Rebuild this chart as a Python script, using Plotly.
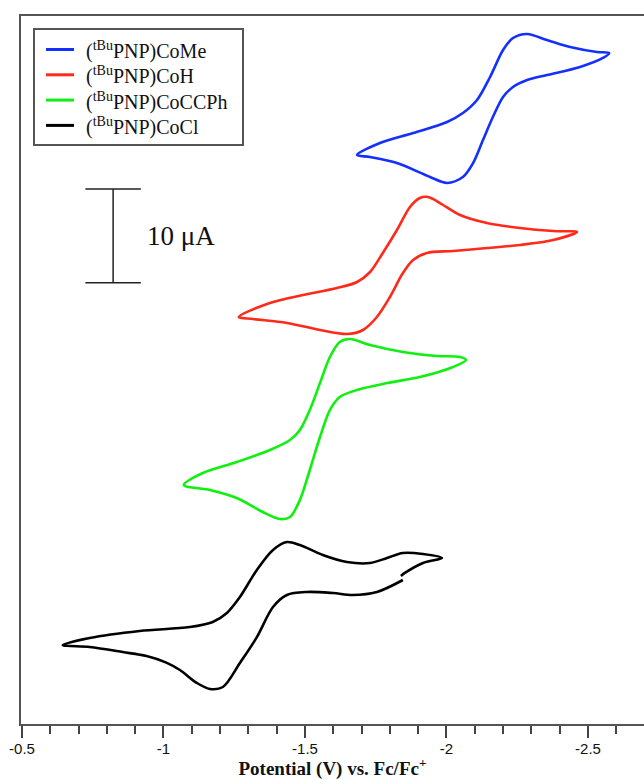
import plotly.graph_objects as go

# ---------------- data (potential in V vs Fc/Fc+, current in uA with vertical offsets) -------------
come_E = [-1.684, -1.765, -1.882, -2.002, -2.058, -2.108, -2.154, -2.200, -2.235, -2.285, -2.355,
          -2.437, -2.532, -2.575, -2.553, -2.472, -2.355, -2.285, -2.235, -2.200, -2.164, -2.129,
          -2.094, -2.058, -2.002, -1.942, -1.825, -1.730, -1.684]
come_I = [60.73, 62.01, 63.07, 64.25, 65.21, 66.60, 69.05, 71.93, 73.21, 73.64, 73.00,
          72.25, 71.72, 71.61, 71.08, 70.12, 69.26, 68.73, 67.98, 66.92, 64.78, 62.33,
          59.87, 58.38, 57.74, 58.38, 59.87, 60.51, 60.73]

coh_E = [-1.266, -1.376, -1.493, -1.613, -1.684, -1.730, -1.775, -1.825, -1.871, -1.906, -1.935,
         -1.977, -2.048, -2.143, -2.260, -2.377, -2.461, -2.377, -2.260, -2.143, -2.023, -1.931,
         -1.882, -1.846, -1.800, -1.754, -1.705, -1.648, -1.553, -1.436, -1.316, -1.266]
coh_I = [43.44, 44.93, 45.78, 46.53, 47.17, 48.24, 50.27, 52.72, 55.18, 56.14, 56.24,
         55.60, 54.32, 53.47, 52.93, 52.61, 52.51, 51.65, 51.12, 50.80, 50.48, 50.27,
         49.52, 48.13, 45.57, 43.44, 42.05, 41.62, 42.05, 42.80, 43.22, 43.44]

coccph_E = [-1.072, -1.139, -1.259, -1.376, -1.447, -1.482, -1.517, -1.553, -1.588, -1.623, -1.659,
            -1.730, -1.846, -1.966, -2.048, -2.069, -2.023, -1.906, -1.790, -1.684, -1.623, -1.588,
            -1.553, -1.517, -1.482, -1.447, -1.411, -1.351, -1.259, -1.164, -1.072]
coccph_I = [25.51, 26.79, 27.96, 29.24, 30.31, 31.38, 33.51, 36.39, 39.17, 40.77, 41.09,
            40.45, 39.70, 39.27, 39.17, 38.85, 38.10, 37.03, 36.39, 35.65, 34.90, 33.51,
            30.63, 27.11, 23.91, 22.09, 21.88, 22.63, 24.12, 24.97, 25.51]

cocl_E = [-1.846, -1.754, -1.669, -1.599, -1.507, -1.436, -1.387, -1.330, -1.270, -1.210, -1.164,
          -1.118, -1.058, -1.010, -0.940, -0.856, -0.739, -0.644, -0.739, -0.916, -1.093, -1.174,
          -1.224, -1.270, -1.330, -1.387, -1.436, -1.482, -1.563, -1.648, -1.730, -1.790, -1.846,
          -1.917, -1.984, -1.917, -1.853, -1.839]
cocl_I = [15.37, 14.09, 13.77, 13.98, 14.09, 13.77, 12.49, 9.28, 6.51, 3.95, 3.74,
          4.38, 5.76, 6.55, 7.25, 7.68, 8.22, 8.43, 9.18, 9.93, 10.35, 10.89,
          11.85, 13.55, 16.44, 18.57, 19.42, 19.10, 18.04, 17.29, 17.18, 17.72, 18.25,
          18.14, 17.72, 17.18, 16.12, 15.80]

series_names = ["(<sup>tBu</sup>PNP)CoMe", "(<sup>tBu</sup>PNP)CoH",
                "(<sup>tBu</sup>PNP)CoCCPh", "(<sup>tBu</sup>PNP)CoCl"]
series_colors = ["#1430FF", "#FF2A1A", "#10F010", "#000000"]

tick_vals = [-0.5, -1.0, -1.5, -2.0, -2.5]
tick_text = ["-0.5", "-1", "-1.5", "-2", "-2.5"]
x_range = [-0.4965, -2.698]
y_range = [0, 75.56]

scale_bar_E = -0.822          # V, position of the scale bar
scale_bar_cap = 0.098         # V, half width of caps
scale_bar_bottom = 47.1       # uA
scale_bar_size = 10.0         # uA
scale_bar_label = "10 μA"

# ---------------- figure -------------
SERIF = "Liberation Serif, Times New Roman, serif"
SANS = "Liberation Sans, Arial, sans-serif"
W, H = 644, 780
ML, MR, MT, MB = 21, 0, 16, 56
PW, PH = W - ML - MR, H - MT - MB


def px(xp):   # pixel -> paper x
    return (xp - ML) / PW


def py(yp):   # pixel -> paper y
    return (H - MB - yp) / PH


fig = go.Figure()
for E, I, name, col in zip([come_E, coh_E, coccph_E, cocl_E],
                           [come_I, coh_I, coccph_I, cocl_I],
                           series_names, series_colors):
    fig.add_trace(go.Scatter(x=E, y=I, mode="lines", name=name, showlegend=False,
                             line=dict(color=col, width=2.6, shape="spline", smoothing=0.9)))

# legend (drawn as a boxed key)
fig.add_shape(type="rect", xref="paper", yref="paper", x0=px(34), x1=px(243), y0=py(29), y1=py(145),
              line=dict(color="#555", width=2), fillcolor="white", layer="above")
for k, (name, col) in enumerate(zip(series_names, series_colors)):
    yy = 49.5 + 25.3 * k
    fig.add_shape(type="line", xref="paper", yref="paper", x0=px(46), x1=px(74), y0=py(yy), y1=py(yy),
                  line=dict(color=col, width=3), layer="above")
    fig.add_annotation(xref="paper", yref="paper", x=px(84), y=py(yy + 1), text=name, showarrow=False,
                       xanchor="left", yanchor="middle", font=dict(family=SERIF, size=20, color="#111"))

# scale bar
top = scale_bar_bottom + scale_bar_size
fig.add_shape(type="line", x0=scale_bar_E, x1=scale_bar_E, y0=scale_bar_bottom, y1=top,
              line=dict(color="#222", width=1.5))
for yy in (scale_bar_bottom, top):
    fig.add_shape(type="line", x0=scale_bar_E + scale_bar_cap, x1=scale_bar_E - scale_bar_cap,
                  y0=yy, y1=yy, line=dict(color="#222", width=1.5))
fig.add_annotation(x=scale_bar_E - scale_bar_cap - 0.014, y=scale_bar_bottom + scale_bar_size / 2,
                   text=scale_bar_label, showarrow=False, xanchor="left", yanchor="middle",
                   font=dict(family=SERIF, size=27, color="#111"))

fig.update_layout(
    width=W, height=H,
    margin=dict(l=ML, r=MR, t=MT, b=MB),
    paper_bgcolor="white", plot_bgcolor="white",
    showlegend=False,
    xaxis=dict(range=x_range, tickmode="array", tickvals=tick_vals, ticktext=tick_text,
               ticks="outside", ticklen=12, tickwidth=2, tickcolor="#444",
               minor=dict(tickmode="linear", tick0=-0.5, dtick=0.1, ticks="outside",
                          ticklen=8, tickwidth=2, tickcolor="#444"),
               showline=True, linecolor="#555", linewidth=2, mirror=True,
               showgrid=False, zeroline=False, ticklabelstandoff=-2,
               tickfont=dict(family=SANS, size=15, color="#111"),
               title=dict(text="<b>Potential (V) vs. Fc/Fc<sup>+</sup></b>",
                          font=dict(family=SERIF, size=19, color="#111"), standoff=2)),
    yaxis=dict(range=y_range, showticklabels=False, ticks="", showgrid=False, zeroline=False,
               showline=True, linecolor="#555", linewidth=2, mirror=False),
)

fig.write_html("out.html", config={"displayModeBar": False},
               post_script="document.body.style.margin='0';document.body.style.overflow='hidden';")
